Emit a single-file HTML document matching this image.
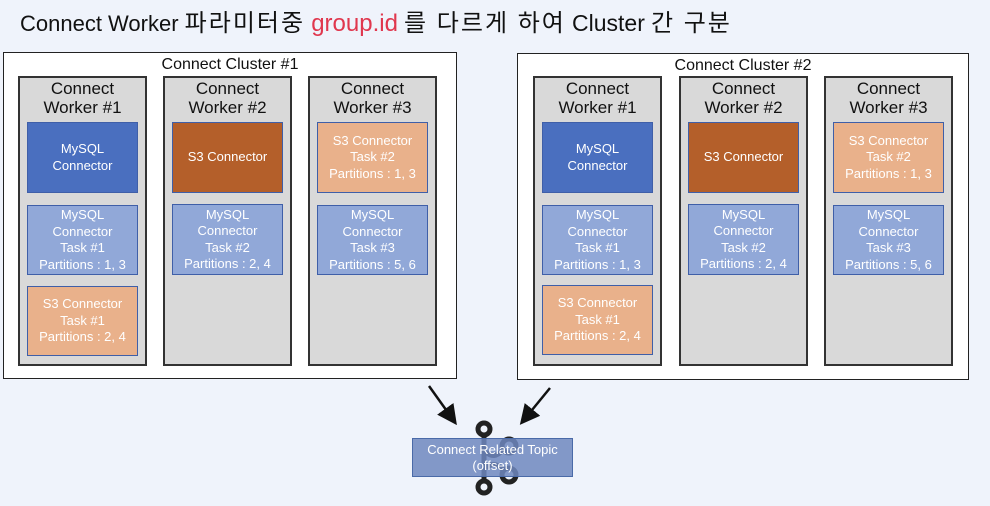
<!DOCTYPE html>
<html><head><meta charset="utf-8"><style>
body{margin:0;width:990px;height:506px;background:#eff3fb;position:relative;overflow:hidden;font-family:"Liberation Sans","Noto Sans CJK KR",sans-serif}
.a{position:absolute;box-sizing:border-box}
.cl{background:#fff;border:1.5px solid #222}
.w{background:#d9d9d9;border:2px solid #333}
.t{display:flex;align-items:center;justify-content:center;text-align:center;color:#fff;font-size:13px;line-height:16.5px;border:1.5px solid #3f5fa8}
.mc{background:#4a6fbf}.s3{background:#b45f2a}.mt{background:#91a8d8}.st{background:#e9b18b}
.lbl{position:absolute;text-align:center;font-size:16px;line-height:19px;color:#111}
.k{font-size:24px;letter-spacing:2px}
</style></head><body>
<div class="a" style="left:20px;top:3px;font-size:22px;color:#111;white-space:nowrap">Connect Worker <span class="k">파라미터중</span> <span style="color:#e0374e;font-size:24px">group.id</span> <span class="k">를 다르게 하여</span> <span style="font-size:23px">Cluster</span> <span class="k">간 구분</span></div>

<div class="a cl" style="left:3px;top:52px;width:454px;height:327px"></div>
<div class="lbl" style="left:3px;top:55px;width:454px">Connect Cluster #1</div>
<div class="a w" style="left:18px;top:76px;width:129px;height:290px"></div>
<div class="lbl" style="left:18px;top:79px;width:129px;font-size:17px">Connect<br>Worker #1</div>
<div class="a w" style="left:163px;top:76px;width:129px;height:290px"></div>
<div class="lbl" style="left:163px;top:79px;width:129px;font-size:17px">Connect<br>Worker #2</div>
<div class="a w" style="left:308px;top:76px;width:129px;height:290px"></div>
<div class="lbl" style="left:308px;top:79px;width:129px;font-size:17px">Connect<br>Worker #3</div>
<div class="a t mc" style="left:27px;top:122px;width:111px;height:71px">MySQL<br>Connector</div>
<div class="a t mt" style="left:27px;top:205px;width:111px;height:70px">MySQL<br>Connector<br>Task #1<br>Partitions : 1, 3</div>
<div class="a t st" style="left:27px;top:286px;width:111px;height:70px">S3 Connector<br>Task #1<br>Partitions : 2, 4</div>
<div class="a t s3" style="left:172px;top:122px;width:111px;height:71px">S3 Connector</div>
<div class="a t mt" style="left:172px;top:204px;width:111px;height:71px">MySQL<br>Connector<br>Task #2<br>Partitions : 2, 4</div>
<div class="a t st" style="left:317px;top:122px;width:111px;height:71px">S3 Connector<br>Task #2<br>Partitions : 1, 3</div>
<div class="a t mt" style="left:317px;top:205px;width:111px;height:70px">MySQL<br>Connector<br>Task #3<br>Partitions : 5, 6</div>

<div class="a cl" style="left:517px;top:53px;width:452px;height:327px"></div>
<div class="lbl" style="left:517px;top:56px;width:452px">Connect Cluster #2</div>
<div class="a w" style="left:533px;top:76px;width:129px;height:290px"></div>
<div class="lbl" style="left:533px;top:79px;width:129px;font-size:17px">Connect<br>Worker #1</div>
<div class="a w" style="left:679px;top:76px;width:129px;height:290px"></div>
<div class="lbl" style="left:679px;top:79px;width:129px;font-size:17px">Connect<br>Worker #2</div>
<div class="a w" style="left:824px;top:76px;width:129px;height:290px"></div>
<div class="lbl" style="left:824px;top:79px;width:129px;font-size:17px">Connect<br>Worker #3</div>
<div class="a t mc" style="left:542px;top:122px;width:111px;height:71px">MySQL<br>Connector</div>
<div class="a t mt" style="left:542px;top:205px;width:111px;height:70px">MySQL<br>Connector<br>Task #1<br>Partitions : 1, 3</div>
<div class="a t st" style="left:542px;top:285px;width:111px;height:70px">S3 Connector<br>Task #1<br>Partitions : 2, 4</div>
<div class="a t s3" style="left:688px;top:122px;width:111px;height:71px">S3 Connector</div>
<div class="a t mt" style="left:688px;top:204px;width:111px;height:71px">MySQL<br>Connector<br>Task #2<br>Partitions : 2, 4</div>
<div class="a t st" style="left:833px;top:122px;width:111px;height:71px">S3 Connector<br>Task #2<br>Partitions : 1, 3</div>
<div class="a t mt" style="left:833px;top:205px;width:111px;height:70px">MySQL<br>Connector<br>Task #3<br>Partitions : 5, 6</div>

<svg class="a" style="left:0;top:0" width="990" height="506">
<defs><marker id="ar" markerWidth="8" markerHeight="8" refX="6" refY="4" orient="auto"><path d="M0,0L8,4L0,8z" fill="#111"/></marker></defs>
<line x1="429" y1="386" x2="454" y2="421" stroke="#111" stroke-width="2.5" marker-end="url(#ar)"/>
<line x1="550" y1="388" x2="523" y2="421" stroke="#111" stroke-width="2.5" marker-end="url(#ar)"/>
<g fill="none" stroke="#222" stroke-width="5">
<circle cx="484" cy="429" r="6"/><circle cx="484" cy="487" r="6"/>
<circle cx="509" cy="446" r="7"/><circle cx="509" cy="475" r="7"/>
<line x1="484" y1="435" x2="484" y2="481"/>
<path d="M486,452 Q494,460 503,450 M486,468 Q494,460 503,470"/>
</g>
</svg>
<div class="a t" style="left:412px;top:438px;width:161px;height:39px;background:rgba(110,135,190,.85);border-color:#4a6aa8;font-size:13px;line-height:16px">Connect Related Topic<br>(offset)</div>
</body></html>
